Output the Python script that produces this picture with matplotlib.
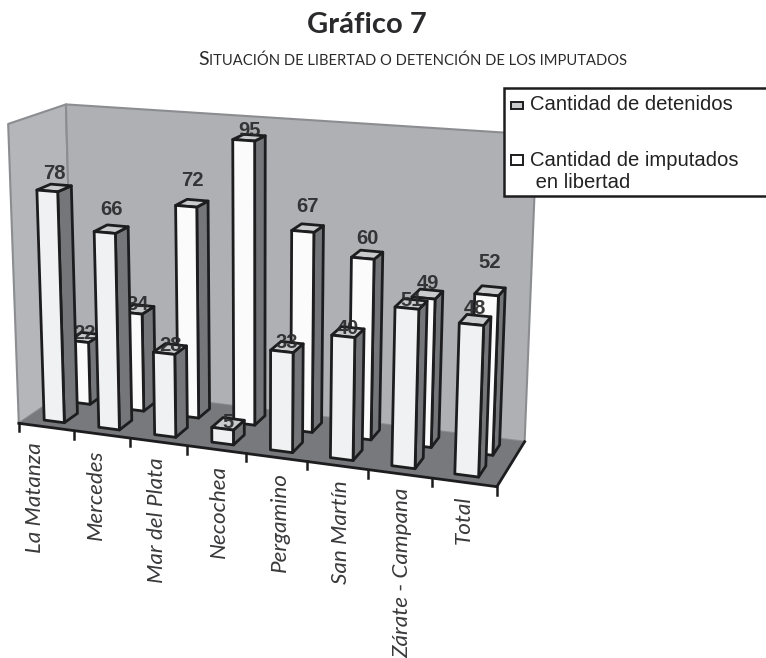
import numpy as np
import matplotlib
matplotlib.use("Agg")
import matplotlib.pyplot as plt
from matplotlib.patches import Polygon, Rectangle

categories = ["La Matanza", "Mercedes", "Mar del Plata", "Necochea",
              "Pergamino", "San Martín", "Zárate - Campana", "Total"]
detenidos = [78, 66, 28, 5, 33, 40, 51, 48]
libertad = [22, 34, 72, 95, 67, 60, 49, 52]
series_names = ["Cantidad de detenidos", "Cantidad de imputados\n en libertad"]

# screen offsets of the value labels above the bar tops (px)
lift_det = [14, 20, 3, 1, 4, 4, 3, 11]
lift_lib = [4, 5, 23, 7, 22, 16, 11, 28]

W, H = 766, 658
fig = plt.figure(figsize=(W / 100, H / 100), dpi=100)
ax = fig.add_axes([0, 0, 1, 1])
ax.set_xlim(0, W)
ax.set_ylim(H, 0)
ax.axis("off")

# camera fitted to the box corners: (u, w, z) -> screen
box3d = [(0, 0, 0), (8, 0, 0), (0, 1, 0), (8, 1, 0), (0, 0, 100), (0, 1, 100), (8, 1, 100),
         (2, 0, 0), (4, 0, 0), (6, 0, 0)]
box2d = [(19, 424), (497, 486), (74, 385), (525, 442), (9, 123), (65, 105), (537, 135),
         (129.5, 439), (246, 454), (368, 469)]
A, b = [], []
for (X, Y, Z), (x, y) in zip(box3d, box2d):
    A.append([X, Y, Z, 1, 0, 0, 0, 0, -x * X, -x * Y, -x * Z])
    b.append(x)
    A.append([0, 0, 0, 0, X, Y, Z, 1, -y * X, -y * Y, -y * Z])
    b.append(y)
p = np.linalg.lstsq(np.array(A, float), np.array(b, float), rcond=None)[0]
P = np.append(p, 1).reshape(3, 4)


def pr(u, w, z):
    h = P @ np.array([u, w, z, 1.0])
    return (h[0] / h[2], h[1] / h[2])


def quad(pts, fc, lw=0.0, ec="none", z=1):
    ax.add_patch(Polygon([pr(*q) for q in pts], closed=True, fc=fc, ec=ec, lw=lw, joinstyle="round", zorder=z))


WALL = "#aeb0b4"
WALL_L = "#b4b6b9"
FLOOR = "#77797c"
EDGE = "#8b8d90"
DARK = "#1d1d1f"
TEXT = "#2a2a2c"

# walls and floor
quad([(0, 0, 0), (0, 1, 0), (0, 1, 100), (0, 0, 100)], WALL_L, 1.5, EDGE, 1)
quad([(0, 1, 0), (8, 1, 0), (8, 1, 100), (0, 1, 100)], WALL, 1.5, EDGE, 1)
quad([(0, 0, 0), (8, 0, 0), (8, 1, 0), (0, 1, 0)], FLOOR, 0, "none", 2)

# axis lines and ticks
x0, y0 = pr(0, 0, 0)
x1, y1 = pr(8, 0, 0)
ax.plot([x0, x1], [y0, y1], color=DARK, lw=2, zorder=3)
xb, yb = pr(8, 1, 0)
ax.plot([x1, xb], [y1, yb], color=DARK, lw=2, zorder=3)
for i in range(9):
    tx, ty = pr(i, 0, 0)
    ax.plot([tx, tx], [ty, ty + 8], color=DARK, lw=1.8, zorder=3)

Z = 10


def bar(i, v, w0, w1, face, lift):
    global Z
    u0, u1 = i + 0.32 - 0.005 * i, i + 0.69 - 0.005 * i
    Z += 1
    tx, ty = pr((u0 + u1) / 2, (w0 + w1) / 2, v)
    quad([(u0, w1, v), (u1, w1, v), (u1, w1, 0), (u0, w1, 0)], face, 0, "none", Z)
    quad([(u1, w0, 0), (u1, w1, 0), (u1, w1, v), (u1, w0, v)], "#747679", 2.0, DARK, Z)
    quad([(u0, w0, v), (u1, w0, v), (u1, w1, v), (u0, w1, v)], "#c9cbcd", 2.0, DARK, Z)
    quad([(u0, w0, 0), (u1, w0, 0), (u1, w0, v), (u0, w0, v)], face, 2.0, DARK, Z)
    ax.text(tx, ty - lift, str(v), ha="center", va="center", fontsize=14.5, fontweight="bold",
            family="Liberation Sans", color=TEXT, zorder=Z + 0.5, alpha=0.92)


for i, v in enumerate(libertad):
    bar(i, v, 0.62, 0.86, "#fbfbfb", lift_lib[i])
for i, v in enumerate(detenidos):
    bar(i, v, 0.14, 0.38, "#f0f1f2", lift_det[i])

# category labels
for i, c in enumerate(categories):
    ax.text(35 + 61.2 * i, 442 + 7.6 * i, c, rotation=90, ha="center", va="top", fontsize=16.2,
            style="italic", family="Lato", color="#3a3a3c", zorder=5)

# legend
ax.add_patch(Rectangle((504, 88), 270, 108, fc="white", ec=DARK, lw=1.8, zorder=60))
ax.add_patch(Rectangle((511, 101.5), 12, 7.5, fc="#c9cbcd", ec=DARK, lw=1.4, zorder=61))
ax.add_patch(Rectangle((511, 155), 12, 10, fc="white", ec=DARK, lw=1.4, zorder=61))
ax.text(530, 104.5, series_names[0], fontsize=14.6, family="Liberation Sans", va="center", color="#222", zorder=61)
ax.text(530, 171.5, series_names[1], fontsize=14.6, family="Liberation Sans", va="center", color="#222", zorder=61,
        linespacing=1.2)

# titles
ax.text(367, 25, "Gráfico 7", fontsize=21, fontweight="bold", family="Lato", ha="center", va="center", color=TEXT)
first = ax.text(198, 65, "S", fontsize=14, family="Lato", ha="left", va="baseline", color=TEXT)
ax.annotate("ITUACIÓN DE LIBERTAD O DETENCIÓN DE LOS IMPUTADOS", xy=(1, 0), xycoords=first,
            xytext=(0, 0), textcoords="offset points", fontsize=10.6, family="Lato",
            ha="left", va="bottom", color=TEXT)

fig.savefig("out.png", dpi=100)
